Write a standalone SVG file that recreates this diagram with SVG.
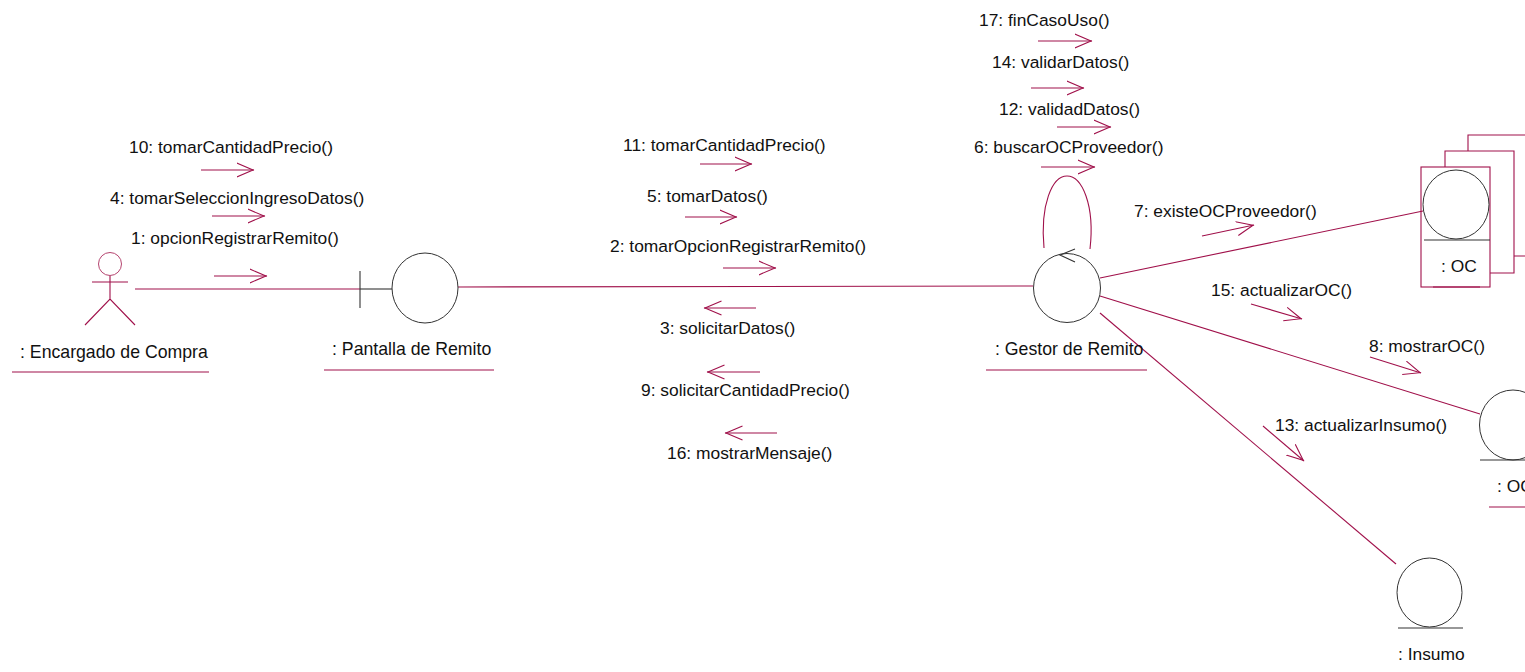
<svg xmlns="http://www.w3.org/2000/svg" width="1525" height="672" viewBox="0 0 1525 672">
<style>
text{font-family:"Liberation Sans",Arial,sans-serif;font-size:17.4px;fill:#111}
text.n{font-size:17.7px}
line,path,rect,polyline{fill:none;stroke:#a0104a;stroke-width:1.1}
circle,ellipse{fill:#fff;stroke:#333;stroke-width:1}
.k{stroke:#333}
.m{marker-end:url(#open)}
</style>
<defs>
<marker id="open" markerUnits="userSpaceOnUse" markerWidth="20" markerHeight="16" refX="17.500" refY="8" orient="auto" viewBox="0 0 20 16"><path d="M0 1L16.500 8L0 15" style="stroke:#a0104a;stroke-width:1.1;fill:none"/></marker>
</defs>
<rect width="1525" height="672" style="fill:#fff;stroke:none"/>
<g id="connectors">
<line x1="135" y1="289" x2="360" y2="289"/>
<line x1="458" y1="287" x2="1033" y2="286"/>
<path d="M1044 248C1040 205 1052 176 1067 176C1082 176 1095 205 1090 249"/>
<line x1="1100" y1="278" x2="1423" y2="211"/>
<line x1="1100" y1="296" x2="1480" y2="414"/>
<line x1="1100" y1="313" x2="1396" y2="564"/>
</g>
<g id="messages">
<line class="m" x1="201" y1="170" x2="254" y2="170"/><text x="129" y="153">10: tomarCantidadPrecio()</text>
<line class="m" x1="212" y1="216" x2="265" y2="216"/><text x="110" y="204">4: tomarSeleccionIngresoDatos()</text>
<line class="m" x1="214" y1="276" x2="267" y2="276"/><text x="131" y="244">1: opcionRegistrarRemito()</text>
<line class="m" x1="700" y1="164" x2="752" y2="164"/><text x="623" y="151">11: tomarCantidadPrecio()</text>
<line class="m" x1="685" y1="217" x2="737" y2="217"/><text x="647" y="202">5: tomarDatos()</text>
<line class="m" x1="723" y1="268" x2="776" y2="268"/><text x="610" y="252">2: tomarOpcionRegistrarRemito()</text>
<line class="m" x1="756" y1="308" x2="704" y2="308"/><text x="660" y="334">3: solicitarDatos()</text>
<line class="m" x1="760" y1="372" x2="707" y2="372"/><text x="641" y="396">9: solicitarCantidadPrecio()</text>
<line class="m" x1="777" y1="433" x2="725" y2="433"/><text x="667" y="459">16: mostrarMensaje()</text>
<line class="m" x1="1038" y1="41" x2="1092" y2="41"/><text x="979" y="26">17: finCasoUso()</text>
<line class="m" x1="1031" y1="88" x2="1084" y2="88"/><text x="992" y="68">14: validarDatos()</text>
<line class="m" x1="1057" y1="127" x2="1111" y2="127"/><text x="999" y="115">12: validadDatos()</text>
<line class="m" x1="1041" y1="167" x2="1095" y2="167"/><text x="974" y="153">6: buscarOCProveedor()</text>
<line class="m" x1="1202" y1="236" x2="1254" y2="225"/><text x="1134" y="217">7: existeOCProveedor()</text>
<line class="m" x1="1251" y1="304" x2="1302" y2="319"/><text x="1211" y="296">15: actualizarOC()</text>
<line class="m" x1="1370" y1="357" x2="1421" y2="373"/><text x="1369" y="352">8: mostrarOC()</text>
<line class="m" x1="1263" y1="426" x2="1304" y2="461"/><text x="1275" y="431">13: actualizarInsumo()</text>
</g>
<g id="actor-encargado">
<circle cx="110" cy="264" r="11.5" style="stroke:#b5446f"/>
<path d="M110 276V299M92 282H128M85 325L110 299L135 325"/>
<text class="n" x="20" y="358">: Encargado de Compra</text>
<line x1="12" y1="372" x2="209" y2="372"/>
</g>
<g id="boundary-pantalla">
<line class="k" x1="360" y1="289" x2="392" y2="289"/>
<line class="k" x1="360" y1="271" x2="360" y2="308"/>
<ellipse cx="425" cy="288" rx="33" ry="35"/>
<text class="n" x="332" y="355">: Pantalla de Remito</text>
<line x1="324" y1="370" x2="494" y2="370"/>
</g>
<g id="control-gestor">
<ellipse cx="1067" cy="288" rx="33.5" ry="34.5"/>
<path class="k" d="M1075 249L1060 255L1075 262"/>
<text class="n" x="995" y="355">: Gestor de Remito</text>
<line x1="986" y1="370" x2="1147" y2="370"/>
</g>
<g id="entity-oc-multi">
<path d="M1468 151V135H1525M1514 256H1525"/>
<path d="M1445 167V151H1514V273H1490"/>
<rect x="1421" y="167" width="69" height="120"/>
<ellipse cx="1456" cy="204.500" rx="33" ry="34.500"/>
<line class="k" x1="1424" y1="240" x2="1490" y2="240"/>
<text x="1441" y="272">: OC</text>
<line x1="1433" y1="287" x2="1480" y2="287"/>
</g>
<g id="entity-oc">
<ellipse cx="1513" cy="425" rx="33.500" ry="35"/>
<line class="k" x1="1480" y1="460" x2="1525" y2="460"/>
<text x="1497" y="492">: OC</text>
<line x1="1489" y1="507" x2="1525" y2="507"/>
</g>
<g id="entity-insumo">
<ellipse cx="1429.500" cy="592.500" rx="32.500" ry="34.500"/>
<line class="k" x1="1398" y1="628" x2="1463" y2="628"/>
<text x="1398" y="660">: Insumo</text>
</g>
</svg>
